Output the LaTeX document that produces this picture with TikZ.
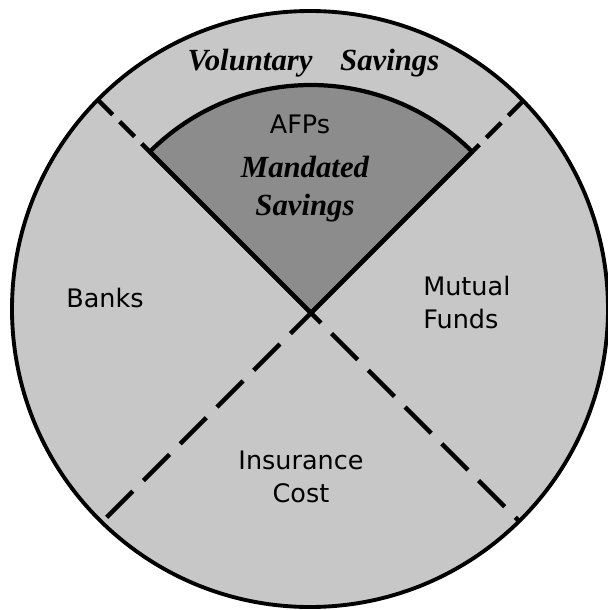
\documentclass[tikz,border=0pt]{standalone}
\usepackage{fontspec}
\setmainfont{Liberation Serif}
\setsansfont{DejaVu Sans}
\usepackage{tikz}
\usetikzlibrary{positioning,calc}
\tikzstyle{disc} = [fill=black!22, draw=black, line width=2.2pt]
\tikzstyle{wedge} = [fill=black!45, draw=black, line width=2.4pt, line join=round]
\tikzstyle{divider} = [draw=black, line width=2.6pt]
\tikzstyle{longdash} = [divider, dash pattern=on 0.74cm off 0.3cm]
\tikzstyle{shortdash} = [divider, dash pattern=on 0.42cm off 0.2cm]
\tikzstyle{segtext} = [font=\sffamily\fontsize{14.5}{18.5}\selectfont, inner sep=0pt]
\tikzstyle{savetext} = [font=\rmfamily\bfseries\itshape\fontsize{17.5}{21}\selectfont, inner sep=0pt]

\begin{document}
\begin{tikzpicture}
    \useasboundingbox (-6.2,-6.02) rectangle (5.94,6.18);
    \coordinate (c) at (0,0);
    \coordinate (x) at (0.02,-0.08);
    \coordinate (ul) at ($(x)+(135:6.03)$);
    \coordinate (ur) at ($(x)+(45:6.0)$);
    \coordinate (ll) at ($(x)+(225:5.92)$);
    \coordinate (lr) at ($(x)+(315:5.89)$);
    \coordinate (al) at ($(x)+(135:4.56)$);
    \coordinate (ar) at ($(x)+(45:4.56)$);

    \draw [disc] (c) circle [radius=5.96cm];
    \draw [wedge] (x) -- (al) arc [start angle=135, end angle=45, radius=4.56cm] -- cycle;

    \draw [divider] (al) -- (x);
    \draw [divider] (ar) -- (x);
    \draw [shortdash] (ul) -- (al);
    \draw [shortdash] (ur) -- (ar);
    \draw [longdash, dash phase=0.16cm] (x) -- (ll);
    \draw [longdash, dash phase=0.46cm] (x) -- (lr);

    \node (voluntary) [savetext, anchor=base] at (0.07,4.78) {Voluntary\hspace{0.9em}Savings};
    \node (afps) [segtext, anchor=base] at (-0.2,3.52) {AFPs};
    \node (mandated) [savetext, anchor=base] at (-0.1,2.64) {Mandated};
    \node (mansav) [savetext, anchor=base] at (-0.1,1.88) {Savings};
    \node (banks) [segtext, anchor=base] at (-4.1,0.04) {Banks};
    \node (mutual) [segtext, align=left, anchor=north west] at (2.26,0.66) {Mutual\\Funds};
    \node (insurance) [segtext, align=center, anchor=north] at (-0.18,-2.84) {Insurance\\Cost};
\end{tikzpicture}
\end{document}
